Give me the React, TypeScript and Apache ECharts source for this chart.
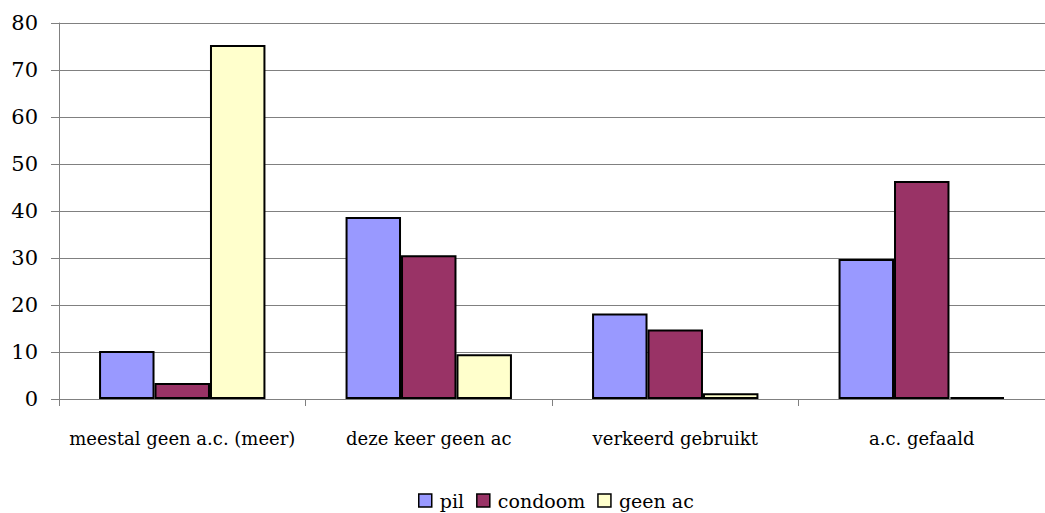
import React, { useEffect, useRef } from "react";
import * as echarts from "echarts";

const categories = [
  "meestal geen a.c. (meer)",
  "deze keer geen ac",
  "verkeerd gebruikt",
  "a.c. gefaald",
];
const seriesNames = ["pil", "condoom", "geen ac"];
const pil = [10.2, 38.7, 18.2, 29.8];
const condoom = [3.4, 30.6, 14.8, 46.4];
const geenAc = [75.3, 9.5, 1.2, 0.4];
const yTicks = [0, 10, 20, 30, 40, 50, 60, 70, 80];

const colors = ["#9999FF", "#993366", "#FFFFCC"];
const FONT = "DejaVu Serif";

export default function App() {
  const ref = useRef<HTMLDivElement>(null);
  useEffect(() => {
    if (!ref.current) return;
    const chart = echarts.init(ref.current, undefined, { renderer: "svg" });
    const values = [pil, condoom, geenAc];
    chart.setOption({
      animation: false,
      backgroundColor: "#ffffff",
      textStyle: { fontFamily: FONT, color: "#000" },
      grid: { left: 59, top: 23, height: 376, width: 996 },
      legend: {
        left: 413,
        top: 486,
        padding: 5,
        itemWidth: 13,
        itemHeight: 13,
        itemGap: 12,
        icon: "rect",
        textStyle: { fontFamily: FONT, fontSize: 19, color: "#000", padding: [0, 0, 0, 3] },
        itemStyle: { borderColor: "#000", borderWidth: 1.5 },
        data: seriesNames,
      },
      xAxis: {
        type: "category",
        data: categories,
        axisLine: { show: true, lineStyle: { color: "#808080", width: 1 } },
        axisTick: { show: true, length: 7, lineStyle: { color: "#808080" } },
        axisLabel: {
          interval: 0,
          margin: 30,
          fontFamily: FONT,
          fontSize: 18,
          color: "#000",
        },
      },
      yAxis: {
        type: "value",
        min: yTicks[0],
        max: yTicks[yTicks.length - 1],
        interval: 10,
        axisLine: { show: true, lineStyle: { color: "#808080", width: 1 } },
        axisTick: { show: true, length: 8, lineStyle: { color: "#808080" } },
        axisLabel: { margin: 21, fontFamily: FONT, fontSize: 21, color: "#000" },
        splitLine: { show: true, lineStyle: { color: "#808080", width: 1 } },
      },
      series: seriesNames.map((name, i) => ({
        name,
        type: "bar",
        data: values[i],
        barGap: "0%",
        barCategoryGap: "32.5%",
        itemStyle: { color: colors[i], borderColor: "#000", borderWidth: 2 },
      })),
    });
    return () => chart.dispose();
  }, []);
  return (
    <div
      ref={ref}
      style={{ position: "absolute", left: 0, top: 0, width: 1045, height: 513 }}
    />
  );
}
